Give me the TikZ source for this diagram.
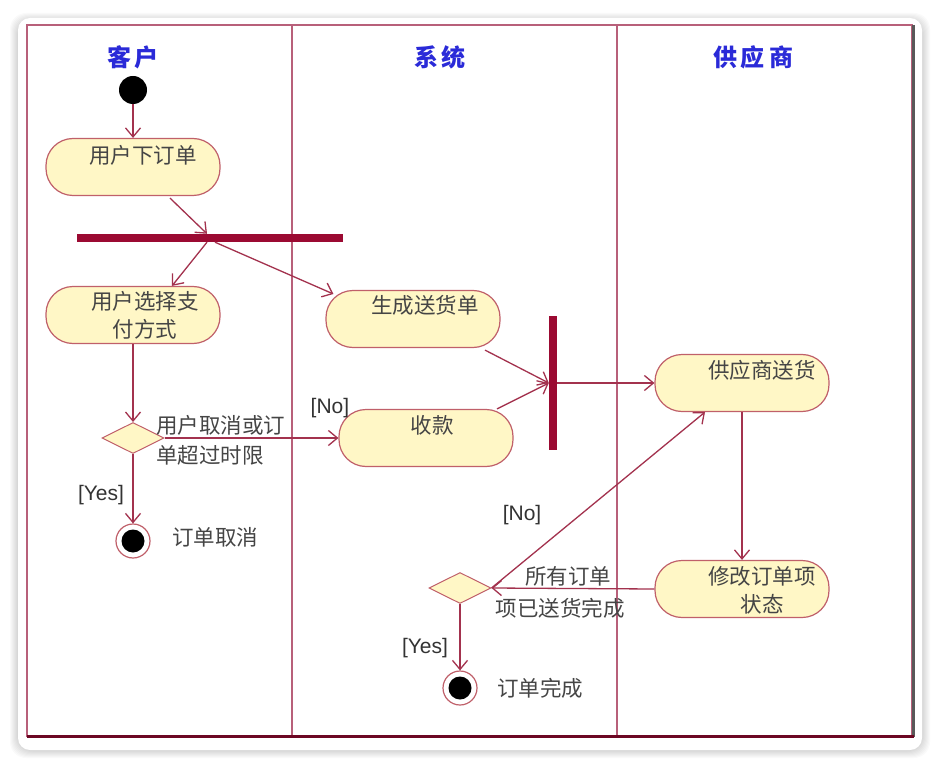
\documentclass[tikz,border=0pt]{standalone}
\usepackage{fontspec}
\setmainfont{Liberation Sans}
\newfontfamily\cjk{Noto Sans CJK SC}
\usetikzlibrary{arrows.meta,shapes.geometric,calc}
\definecolor{ln}{HTML}{A3324E}
\definecolor{barc}{HTML}{9B0A32}
\definecolor{actfill}{HTML}{FFF7C6}
\definecolor{actdraw}{HTML}{C0606A}
\definecolor{titlec}{HTML}{2A2AD8}
\definecolor{txtc}{HTML}{454545}
\definecolor{lanec}{HTML}{B8607A}
\begin{document}
\begin{tikzpicture}[x=1pt,y=-1pt,
  act/.style={draw=actdraw,fill=actfill,line width=1.2pt,rounded corners=27pt,minimum width=174pt,minimum height=57pt,inner sep=0pt},
  acttext/.style={font=\cjk\fontsize{21.5}{28}\selectfont,text=txtc,align=center,inner sep=0pt},
  dec/.style={diamond,draw=actdraw,fill=actfill,line width=1pt,minimum width=62pt,minimum height=31pt,inner sep=0pt},
  initst/.style={circle,fill=black,minimum size=28pt,inner sep=0pt},
  finalst/.style={circle,draw=actdraw,fill=white,line width=1.2pt,minimum size=34pt,inner sep=0pt,
     path picture={\fill[black] (path picture bounding box.center) circle (11.5pt);}},
  hbar/.style={fill=barc,minimum width=266pt,minimum height=8pt,inner sep=0pt},
  vbar/.style={fill=barc,minimum width=8pt,minimum height=134pt,inner sep=0pt},
  arr/.style={draw=ln,line width=1.3pt,-{Straight Barb[length=9pt,width=15pt,line width=1.3pt]}},
  lbl/.style={font=\cjk\fontsize{21.5}{30}\selectfont,text=txtc,inner sep=0pt},
  guard/.style={font=\fontsize{21}{24}\selectfont,text=black!80,inner sep=0pt},
  lanetitle/.style={font=\cjk\bfseries\fontsize{24}{27}\selectfont,text=titlec,inner sep=0pt}
]
\useasboundingbox (0,0) rectangle (939,767);
\fill[white] (0,0) rectangle (939,767);
% card shadow
\foreach \i in {1,...,8}
  \fill[black,opacity=0.018,rounded corners=16pt] (18-\i,18-\i+3) rectangle (922+\i,750+\i);
\fill[white,rounded corners=12pt] (18,18) rectangle (922,750);
% frame and lanes
\draw[lanec,line width=1.1pt] (27,25) rectangle (912,736);
\draw[lanec,line width=1.1pt] (292,25) -- (292,736);
\draw[lanec,line width=1.1pt] (617,25) -- (617,736);
\draw[black!65,line width=3pt] (913,25) -- (913,737);
\draw[barc!70!black,line width=3pt] (27,736) -- (914,736);
% lane titles
\node[lanetitle] (t1) at (133,57) {客\,户};
\node[lanetitle] (t2) at (440,57) {系\,统};
\node[lanetitle] (t3) at (753,57) {供\,应\,商};
% nodes
\node[initst] (init) at (133,90) {};
\node[act] (a1) at (133,167) {};
\node[acttext] at (143,155) {用户下订单};
\node[hbar] (fork) at (210,238) {};
\node[act] (a2) at (133,315) {};
\node[acttext] at (145,315) {用户选择支\\付方式};
\node[act] (a3) at (413,319) {};
\node[acttext] at (425,305) {生成送货单};
\node[act] (a4) at (426,438) {};
\node[acttext] at (432,425) {收款};
\node[dec] (d1) at (133,438) {};
\node[finalst] (f1) at (133,541) {};
\node[vbar] (join) at (553,383) {};
\node[act] (a5) at (742,383) {};
\node[acttext] at (762,370) {供应商送货};
\node[act] (a6) at (742,589) {};
\node[acttext] at (762,590) {修改订单项\\状态};
\node[dec] (d2) at (460,588) {};
\node[finalst] (f2) at (460,688) {};
% connectors
\draw[arr] (init) -- (a1);
\draw[arr] ($(a1.south)+(37,2)$) -- ($(fork.north)+(-3,0)$);
\draw[arr] ($(fork.south)+(-3,0)$) -- ($(a2.north)+(39,0)$);
\draw[arr] ($(fork.south)+(5,0)$) -- ($(a3.west)+(8,-25)$);
\draw[arr] (a2.south) -- (d1.north);
\draw[arr] (d1.east) -- (a4.west);
\draw[arr] (d1.south) -- (f1.north);
\draw[arr] ($(a3.south)+(72,2)$) -- (join.west);
\draw[arr] ($(a4.north)+(71,0)$) -- (join.west);
\draw[arr] (join.east) -- (a5.west);
\draw[arr] (a5.south) -- (a6.north);
\draw[arr] (a6.west) -- (d2.east);
\draw[arr] (d2.east) -- ($(a5.south)+(-37,0)$);
\draw[arr] (d2.south) -- (f2.north);
% labels
\node[lbl,anchor=west,align=left] (l1) at (156,440) {用户取消或订\\单超过时限};
\node[guard] (g1) at (330,408) {[No]};
\node[guard] (g2) at (101,495) {[Yes]};
\node[lbl] (l2) at (215,537) {订单取消};
\node[lbl] (l3) at (568,576) {所有订单};
\node[lbl] (l4) at (560,608) {项已送货完成};
\node[guard] (g3) at (522,515) {[No]};
\node[guard] (g4) at (425,648) {[Yes]};
\node[lbl] (l5) at (540,688) {订单完成};
\end{tikzpicture}
\end{document}
